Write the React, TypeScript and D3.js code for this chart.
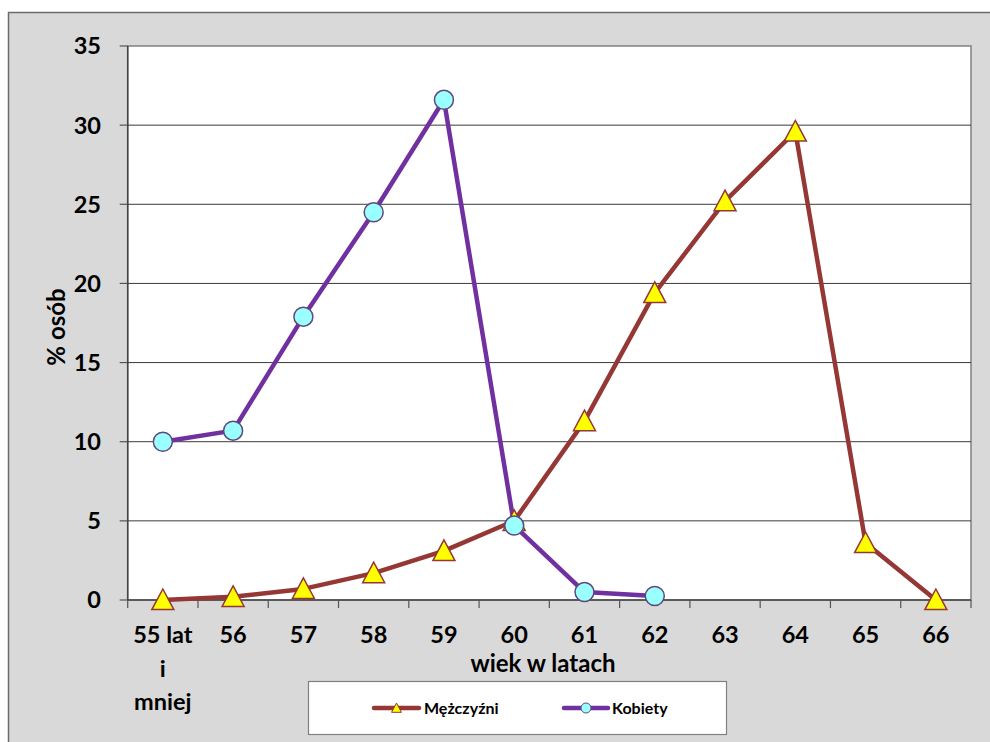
import React from "react";
import * as d3 from "d3";

const categories = ["55 lat\ni\nmniej", "56", "57", "58", "59", "60", "61", "62", "63", "64", "65", "66"];
const menValues: (number | null)[] = [0, 0.2, 0.7, 1.7, 3.1, 5.0, 11.3, 19.4, 25.2, 29.6, 3.6, 0];
const womenValues: (number | null)[] = [10.0, 10.7, 17.9, 24.5, 31.6, 4.7, 0.5, 0.25, null, null, null, null];
const yTicks = [0, 5, 10, 15, 20, 25, 30, 35];
const seriesNames = ["Mężczyźni", "Kobiety"];

const W = 990;
const H = 742;
const plot = { left: 127.7, right: 971, top: 46, bottom: 600 };
const FONT = "Lato, 'Open Sans', sans-serif";

export default function App() {
  const x = d3.scaleBand<string>().domain(categories).range([plot.left, plot.right]).padding(0);
  const y = d3.scaleLinear().domain([0, 35]).range([plot.bottom, plot.top]);
  const cx = (i: number) => (x(categories[i]) as number) + x.bandwidth() / 2;

  const line = d3
    .line<{ i: number; v: number | null }>()
    .defined((d) => d.v !== null)
    .x((d) => cx(d.i))
    .y((d) => y(d.v as number));

  const men = menValues.map((v, i) => ({ i, v }));
  const women = womenValues.map((v, i) => ({ i, v }));

  const tri = (px: number, py: number, s: number) =>
    `M${px},${py - s * 0.55}L${px + s * 0.55},${py + s * 0.48}L${px - s * 0.55},${py + s * 0.48}Z`;

  const menColor = "#953735";
  const womenColor = "#7030A0";

  const boundaries = categories.map((c) => x(c) as number).concat([plot.right]);

  return (
    <svg width={W} height={H} style={{ position: "absolute", left: 0, top: 0 }} fontFamily={FONT}>
      <rect x={8.5} y={12.5} width={1000} height={800} fill="#D9D9D9" stroke="#6b6b6b" strokeWidth={1.5} />
      <rect x={plot.left} y={plot.top} width={plot.right - plot.left} height={plot.bottom - plot.top} fill="#ffffff" stroke="#808080" strokeWidth={1.5} />
      {yTicks.map((t) => (
        <g key={t}>
          {t > 0 && t < 35 && (
            <line x1={plot.left} x2={plot.right} y1={y(t)} y2={y(t)} stroke="#3a3a3a" strokeWidth={1} />
          )}
          <line x1={plot.left - 8} x2={plot.left} y1={y(t)} y2={y(t)} stroke="#555" strokeWidth={1.2} />
          <text x={101} y={y(t)} dy="0.36em" textAnchor="end" fontSize={23.5} fontWeight="bold" fill="#000">
            {t}
          </text>
        </g>
      ))}
      <line x1={plot.left} x2={plot.left} y1={plot.top} y2={plot.bottom} stroke="#444" strokeWidth={1.5} />
      <line x1={plot.left} x2={plot.right} y1={plot.bottom} y2={plot.bottom} stroke="#444" strokeWidth={1.5} />
      {boundaries.map((b, i) => (
        <line key={i} x1={b} x2={b} y1={plot.bottom} y2={plot.bottom + 8} stroke="#555" strokeWidth={1.2} />
      ))}
      {categories.map((c, i) => (
        <text key={c} x={cx(i)} y={643} textAnchor="middle" fontSize={23.5} fontWeight="bold" fill="#000">
          {c.split("\n").map((l, k) => (
            <tspan key={k} x={cx(i)} dy={k === 0 ? 0 : 33.5}>
              {l}
            </tspan>
          ))}
        </text>
      ))}
      <text x={543} y={672} textAnchor="middle" fontSize={24} fontWeight="bold" fill="#000">
        wiek w latach
      </text>
      <text transform={`translate(65,${(plot.top + plot.bottom) / 2 + 4}) rotate(-90)`} textAnchor="middle" fontSize={24} fontWeight="bold" fill="#000">
        % osób
      </text>

      <path d={line(men) || ""} fill="none" stroke={menColor} strokeWidth={4.5} strokeLinejoin="round" />
      <path d={line(women) || ""} fill="none" stroke={womenColor} strokeWidth={4.5} strokeLinejoin="round" />
      {men.map((d) =>
        d.v === null ? null : (
          <path key={d.i} d={tri(cx(d.i), y(d.v), 20)} fill="#FFFF00" stroke={menColor} strokeWidth={1.5} />
        )
      )}
      {women.map((d) =>
        d.v === null ? null : (
          <circle key={d.i} cx={cx(d.i)} cy={y(d.v)} r={9.5} fill="#99FFFF" stroke="#60497A" strokeWidth={1.5} />
        )
      )}

      <rect x={308.5} y={681.5} width={418} height={53} fill="#ffffff" stroke="#808080" strokeWidth={1.2} />
      <line x1={374} x2={419} y1={708} y2={708} stroke={menColor} strokeWidth={4.5} strokeLinecap="round" />
      <path d={tri(396.5, 708, 9)} fill="#FFFF00" stroke={menColor} strokeWidth={1} />
      <text x={424} y={708} dy="0.35em" fontSize={16} fontWeight="bold" fill="#000">
        {seriesNames[0]}
      </text>
      <line x1={564} x2={608} y1={708} y2={708} stroke={womenColor} strokeWidth={4.5} strokeLinecap="round" />
      <circle cx={586} cy={708} r={5} fill="#99FFFF" stroke="#60497A" strokeWidth={1} />
      <text x={612} y={708} dy="0.35em" fontSize={16} fontWeight="bold" fill="#000">
        {seriesNames[1]}
      </text>
    </svg>
  );
}
